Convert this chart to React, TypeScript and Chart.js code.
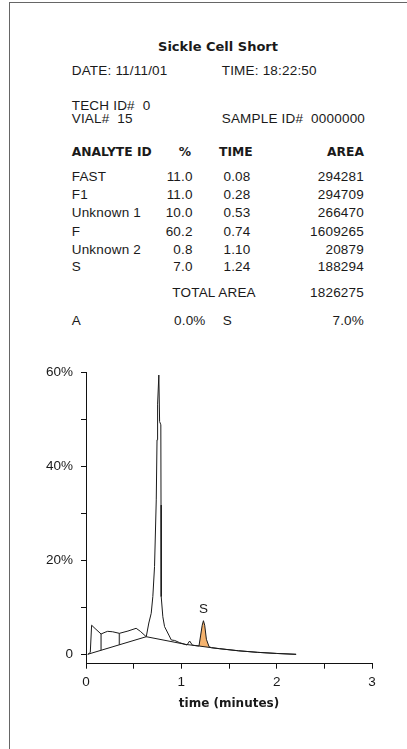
import React, { useEffect, useRef } from "react";
import { Chart, registerables } from "chart.js";
Chart.register(...registerables);

// ---- chromatogram data (time in minutes, value in %) ----
const traceTime = [
  0.02, 0.045, 0.059, 0.095, 0.158, 0.2, 0.227, 0.28, 0.35, 0.44, 0.526, 0.57, 0.632,
  0.659, 0.684, 0.701, 0.719, 0.737, 0.745, 0.751, 0.764, 0.772, 0.785, 0.787, 0.789,
  0.806, 0.824, 0.869, 0.895, 0.93, 0.98, 1.059, 1.087, 1.116, 1.15, 1.185, 1.203, 1.219,
  1.232, 1.245, 1.263, 1.291, 1.316, 1.4, 1.6, 1.8, 2.0, 2.204,
];
const traceValue = [
  0.0, 0.4, 6.2, 5.5, 4.33, 4.7, 4.9, 4.8, 4.47, 4.96, 5.54, 4.9, 3.75,
  6.67, 8.74, 12.3, 18.7, 32.9, 45.7, 53.3, 59.5, 49.6, 48.9, 31.8, 12.3,
  8.0, 5.9, 4.1, 3.05, 2.95, 2.5, 1.98, 2.83, 1.95, 1.85, 1.77, 4.1, 6.2,
  7.16, 6.2, 3.2, 1.62, 1.41, 1.2, 0.75, 0.42, 0.18, 0.0,
];
const baselineTime = [0.017, 0.632, 1.05, 1.185, 1.316, 1.4, 1.6, 1.8, 2.0, 2.204];
const baselineValue = [0.0, 3.75, 2.1, 1.77, 1.41, 1.2, 0.75, 0.42, 0.18, 0.0];
const dropTime = [0.158, 0.35];
const dropTop = [4.33, 4.47];
const dropBottom = [0.86, 2.03];
const shadedPeakStart = 1.185;
const shadedPeakEnd = 1.316;
const peakLabels = ["S"];
const peakLabelTime = [1.232];
const peakLabelValue = [7.16];

const yTicks = [0, 10, 20, 30, 40, 50, 60];
const yTickLabels = ["0", "", "20%", "", "40%", "", "60%"];
const xTicks = [0, 0.5, 1, 1.5, 2, 2.5, 3];
const xTickLabels = ["0", "", "1", "", "2", "", "3"];

// ---- report table ----
const analyteIds = ["FAST", "F1", "Unknown 1", "F", "Unknown 2", "S"];
const analytePct = ["11.0", "11.0", "10.0", "60.2", "0.8", "7.0"];
const analyteTime = ["0.08", "0.28", "0.53", "0.74", "1.10", "1.24"];
const analyteArea = ["294281", "294709", "266470", "1609265", "20879", "188294"];
const rowY = [176.7, 195, 213.3, 231.7, 249.7, 267];

const TEXT = "#1a1a1a";

function T({
  x,
  y,
  children,
  align = "left",
  bold = false,
  size,
}: {
  x: number;
  y: number;
  children: React.ReactNode;
  align?: "left" | "right" | "center";
  bold?: boolean;
  size?: number;
}) {
  const style: React.CSSProperties = {
    position: "absolute",
    top: y - 8,
    height: 16,
    lineHeight: "16px",
    whiteSpace: "pre",
    fontFamily: bold ? '"DejaVu Sans", sans-serif' : '"Liberation Sans", Arial, sans-serif',
    fontWeight: bold ? 700 : 400,
    fontSize: size ?? (bold ? 12.3 : 13.5),
    letterSpacing: bold ? 0 : "0.2px",
    color: TEXT,
  };
  if (align === "left") style.left = x;
  else if (align === "right") {
    style.left = x - 300;
    style.width = 300;
    style.textAlign = "right";
  } else {
    style.left = x - 150;
    style.width = 300;
    style.textAlign = "center";
  }
  return <div style={style}>{children}</div>;
}

export default function App() {
  const ref = useRef<HTMLCanvasElement | null>(null);

  useEffect(() => {
    if (!ref.current) return;
    const pts = (xs: number[], ys: number[]) => xs.map((t, i) => ({ x: t, y: ys[i] }));
    const trace = pts(traceTime, traceValue);
    const base = pts(baselineTime, baselineValue);
    const shade = [
      ...trace.filter((p) => p.x >= shadedPeakStart && p.x <= shadedPeakEnd),
      ...base.filter((p) => p.x >= shadedPeakStart && p.x <= shadedPeakEnd).reverse(),
    ];
    const drops = dropTime.map((t, i) => ({
      label: "drop" + i,
      data: [
        { x: t, y: dropTop[i] },
        { x: t, y: dropBottom[i] },
      ],
      borderColor: "#555",
      borderWidth: 1.4,
      pointRadius: 0,
      fill: false,
      order: 1,
    }));

    const peakLabelPlugin = {
      id: "peakLabels",
      afterDatasetsDraw(chart: any) {
        const { ctx, scales } = chart;
        ctx.save();
        ctx.font = '13.5px "Liberation Sans", Arial, sans-serif';
        ctx.fillStyle = TEXT;
        ctx.textAlign = "center";
        ctx.textBaseline = "middle";
        peakLabels.forEach((l, i) => {
          ctx.fillText(
            l,
            scales.x.getPixelForValue(peakLabelTime[i]),
            scales.y.getPixelForValue(peakLabelValue[i]) - 11
          );
        });
        ctx.restore();
      },
    };

    const tickFont = { family: '"Liberation Sans", Arial, sans-serif', size: 13.5 };
    const chart = new Chart(ref.current, {
      type: "line",
      data: {
        datasets: [
          {
            label: "trace",
            data: trace,
            borderColor: "#1a1a1a",
            borderWidth: 1,
            pointRadius: 0,
            fill: false,
            tension: 0,
            order: 0,
          },
          {
            label: "baseline",
            data: base,
            borderColor: "#1a1a1a",
            borderWidth: 1,
            pointRadius: 0,
            fill: false,
            tension: 0,
            order: 0,
          },
          ...drops,
          {
            label: "S area",
            data: shade,
            borderWidth: 0,
            borderColor: "rgba(0,0,0,0)",
            backgroundColor: "#F5B36E",
            pointRadius: 0,
            fill: "shape",
            order: 5,
          },
        ] as any,
      },
      options: {
        animation: false,
        responsive: false,
        layout: { padding: { top: 32.7, right: 35, left: 0, bottom: 0 } },
        plugins: { legend: { display: false }, tooltip: { enabled: false } },
        scales: {
          x: {
            type: "linear",
            min: 0,
            max: 3,
            afterBuildTicks: (s: any) => {
              s.ticks = xTicks.map((v) => ({ value: v }));
            },
            afterFit: (s: any) => {
              s.height = 85.3;
            },
            grid: { display: true, drawOnChartArea: false, drawTicks: true, tickLength: 5, color: "#111" },
            border: { display: true, color: "#111", width: 1 },
            ticks: {
              autoSkip: false,
              maxRotation: 0,
              padding: 5,
              color: TEXT,
              font: tickFont,
              callback: (v: any) => xTickLabels[xTicks.indexOf(Number(v))] ?? "",
            },
            title: {
              display: true,
              text: "time (minutes)",
              color: TEXT,
              font: { family: '"DejaVu Sans", sans-serif', weight: "bold", size: 12 },
              padding: { top: 0, bottom: 37.8 },
            },
          },
          y: {
            type: "linear",
            min: -2,
            max: 60,
            afterBuildTicks: (s: any) => {
              s.ticks = yTicks.map((v) => ({ value: v }));
            },
            afterFit: (s: any) => {
              s.width = 86;
            },
            grid: { display: true, drawOnChartArea: false, drawTicks: true, tickLength: 5, color: "#111" },
            border: { display: true, color: "#111", width: 1 },
            ticks: {
              autoSkip: false,
              padding: 8,
              color: TEXT,
              font: tickFont,
              callback: (v: any) => yTickLabels[yTicks.indexOf(Number(v))] ?? "",
            },
          },
        },
      } as any,
      plugins: [peakLabelPlugin],
    });
    return () => chart.destroy();
  }, []);

  return (
    <div>
      <div
        style={{
          position: "absolute",
          left: 9,
          top: 2,
          width: 398,
          height: 747,
          borderTop: "1px solid #666",
          borderLeft: "1px solid #666",
          boxSizing: "border-box",
        }}
      />
      <T x={218} y={46.7} align="center" bold size={13}>
        Sickle Cell Short
      </T>
      <T x={71.7} y={71.3}>DATE: 11/11/01</T>
      <T x={221.7} y={71.3}>TIME: 18:22:50</T>
      <T x={71.7} y={106}>TECH ID#  0</T>
      <T x={71.7} y={118.5}>VIAL#  15</T>
      <T x={221.7} y={118.5}>SAMPLE ID#  0000000</T>

      <T x={71.7} y={151.7} bold>ANALYTE ID</T>
      <T x={191} y={151.7} bold align="right">%</T>
      <T x={219} y={151.7} bold>TIME</T>
      <T x={364} y={151.7} bold align="right">AREA</T>

      {analyteIds.map((id, i) => (
        <React.Fragment key={id}>
          <T x={71.7} y={rowY[i]}>{id}</T>
          <T x={192.7} y={rowY[i]} align="right">{analytePct[i]}</T>
          <T x={250.5} y={rowY[i]} align="right">{analyteTime[i]}</T>
          <T x={364} y={rowY[i]} align="right">{analyteArea[i]}</T>
        </React.Fragment>
      ))}

      <T x={172.3} y={293.3}>TOTAL AREA</T>
      <T x={364} y={293.3} align="right">1826275</T>

      <T x={71.7} y={320.7}>A</T>
      <T x={174} y={320.7}>0.0%</T>
      <T x={222.7} y={320.7}>S</T>
      <T x={364} y={320.7} align="right">7.0%</T>

      <canvas
        ref={ref}
        width={407}
        height={409}
        style={{ position: "absolute", left: 0, top: 340, width: 407, height: 409 }}
      />
    </div>
  );
}
